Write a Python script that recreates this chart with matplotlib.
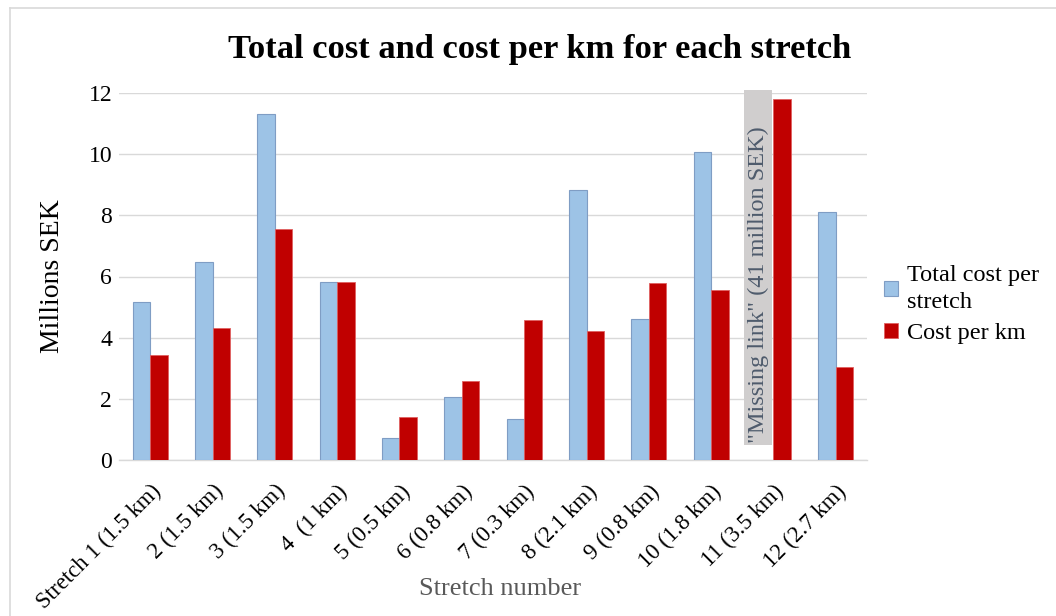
import matplotlib.pyplot as plt
import numpy as np
from matplotlib.lines import Line2D
from matplotlib.patches import Rectangle

plt.rcParams['font.family'] = ['Liberation Serif', 'DejaVu Serif']

# data
stretches = ['Stretch 1 (1.5 km)', '2 (1.5 km)', '3 (1.5 km)', '4  (1 km)', '5 (0.5 km)',
             '6 (0.8 km)', '7 (0.3 km)', '8 (2.1 km)', '9 (0.8 km)', '10 (1.8 km)',
             '11 (3.5 km)', '12 (2.7 km)']
total_cost = [5.16, 6.46, 11.31, 5.81, 0.71, 2.06, 1.35, 8.84, 4.61, 10.07, np.nan, 8.12]
cost_per_km = [3.43, 4.31, 7.54, 5.81, 1.42, 2.59, 4.59, 4.21, 5.78, 5.57, 11.79, 3.03]
missing_note = '"Missing link" (41 million SEK)'
missing_idx = 10

blue = '#9DC3E6'
red = '#C00000'

fig = plt.figure(figsize=(10.56, 6.16), dpi=100)
ax = fig.add_axes([119 / 1056, 1 - 460 / 616, 748 / 1056, 367 / 616])

x = np.arange(len(stretches))
w = 0.28
ax.bar(x - w / 2, total_cost, w, color=blue, edgecolor='#7F9DC4', linewidth=0.8,
       label='Total cost per\nstretch', zorder=3)
ax.bar(x + w / 2, cost_per_km, w, color=red, edgecolor='#E06060', linewidth=0.6,
       label='Cost per km', zorder=3)

# grey box in place of the missing-link bar
bx0, bx1 = missing_idx - 0.47, missing_idx - 0.02
ax.add_patch(Rectangle((bx0, 0.49), bx1 - bx0, 12.11 - 0.49, facecolor='#D0CECE',
                       edgecolor='none', clip_on=False, zorder=4))
ax.text((bx0 + bx1) / 2, 5.72, missing_note, rotation=90, ha='center',
        va='center', fontsize=17.5, color='#4E5B6C', zorder=5)

ax.set_xlim(-0.5, len(stretches) - 0.5)
ax.set_ylim(0, 12)
ax.set_yticks(range(0, 13, 2))
ax.yaxis.grid(True, color='#D9D9D9', linewidth=1, zorder=0)
for s in ['top', 'right', 'left']:
    ax.spines[s].set_visible(False)
ax.spines['bottom'].set_color('#D9D9D9')
ax.spines['bottom'].set_linewidth(1)
ax.tick_params(axis='both', length=0, labelsize=17)
ax.tick_params(axis='y', pad=5)
ax.set_xticks(x)
ax.set_xticklabels(stretches, rotation=45, ha='right', rotation_mode='anchor',
                   fontsize=16.5)
ax.tick_params(axis='x', pad=15)

ax.set_ylabel('Millions SEK', fontsize=20)
ax.yaxis.set_label_coords(-0.072, 0.5)
ax.set_xlabel('Stretch number', fontsize=19, color='#595959')
ax.xaxis.set_label_coords(0.51, -0.322)

fig.suptitle('Total cost and cost per km for each stretch', fontsize=24.8,
             fontweight='bold', x=0.511, y=0.945)

leg = ax.legend(loc='upper left', bbox_to_anchor=(862 / 1056, 1 - 243 / 616),
                bbox_transform=fig.transFigure, frameon=False, fontsize=17.5,
                handlelength=0.6, handleheight=0.6, handletextpad=0.35,
                labelspacing=0.4)
leg.get_texts()[0].set_linespacing(1.4)

# outer chart border
fig.add_artist(Line2D([10 / 1056, 10 / 1056], [0, 1 - 8 / 616], color='#D9D9D9', lw=1.2))
fig.add_artist(Line2D([10 / 1056, 1], [1 - 8 / 616, 1 - 8 / 616], color='#D9D9D9', lw=1.2))

fig.savefig('out.png', dpi=100)
